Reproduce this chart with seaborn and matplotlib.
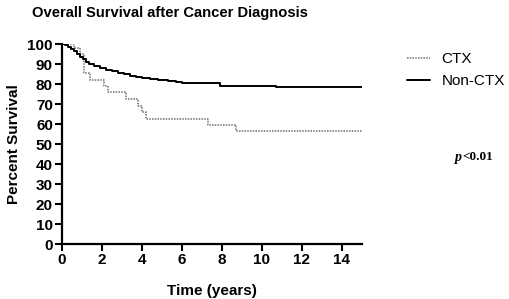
import numpy as np
import pandas as pd
import matplotlib
matplotlib.use("Agg")
import matplotlib.pyplot as plt
import seaborn as sns

# Survival data (step functions)
ctx_time = [0, 0.6, 0.9, 1.1, 1.4, 2.1, 2.3, 3.2, 3.8, 4.0, 4.2, 7.3, 8.7, 15]
ctx_surv = [100, 98, 95, 85.5, 82, 79, 76, 72.5, 69, 66, 62.5, 59.5, 56.5, 56.5]

nonctx_time = [0, 0.15, 0.3, 0.45, 0.6, 0.75, 0.9, 1.05, 1.2, 1.35, 1.6, 1.9, 2.2,
               2.5, 2.8, 3.1, 3.4, 3.7, 4.0, 4.4, 4.8, 5.3, 5.7, 6.0, 7.9, 10.7, 15]
nonctx_surv = [100, 99.5, 98.5, 97.5, 96.5, 95, 93.5, 92.3, 91, 89.8, 89, 88, 87.2,
               86.5, 85.7, 84.8, 84.2, 83.6, 83, 82.5, 82, 81.6, 81.2, 80.7, 79.2, 78.3, 78.3]

groups = ["CTX", "Non-CTX"]
x_ticks = [0, 2, 4, 6, 8, 10, 12, 14]
y_ticks = [0, 10, 20, 30, 40, 50, 60, 70, 80, 90, 100]

df = pd.DataFrame({
    "time": ctx_time + nonctx_time,
    "surv": ctx_surv + nonctx_surv,
    "group": [groups[0]] * len(ctx_time) + [groups[1]] * len(nonctx_time),
})

sns.set_style("ticks")
plt.rcParams["font.family"] = ["Liberation Sans", "DejaVu Sans"]
plt.rcParams["text.color"] = "black"
plt.rcParams["axes.labelcolor"] = "black"
plt.rcParams["xtick.color"] = "black"
plt.rcParams["ytick.color"] = "black"

fig = plt.figure(figsize=(5.10, 2.99), dpi=100)
ax = fig.add_axes([62 / 510, 1 - 244 / 299, 300 / 510, 200 / 299])

styles = {"CTX": dict(color="#707070", linestyle=(0, (1, 0.8)), linewidth=1.1),
          "Non-CTX": dict(color="black", linestyle="-", linewidth=1.4)}
for g in groups:
    sub = df[df["group"] == g]
    sns.lineplot(data=sub, x="time", y="surv", ax=ax, estimator=None,
                 drawstyle="steps-post", label=g, **styles[g])

ax.set_xlim(0, 15)
ax.set_ylim(0, 100)
ax.set_xticks(x_ticks)
ax.set_yticks(y_ticks)
ax.set_xticklabels([str(t) for t in x_ticks], fontweight="bold", fontsize=11)
ax.set_yticklabels([str(t) for t in y_ticks], fontweight="bold", fontsize=11)
ax.tick_params(axis="both", direction="out", length=5, width=1.5, pad=1.5, colors="black")
for s in ["left", "bottom"]:
    ax.spines[s].set_linewidth(1.6)
    ax.spines[s].set_color("black")
sns.despine(ax=ax)
for s in ["left", "bottom"]:
    ax.spines[s].set_clip_on(False)

ax.set_xlabel("Time (years)", fontweight="bold", fontsize=11, labelpad=12)
ax.set_ylabel("Percent Survival", fontweight="bold", fontsize=11, labelpad=5)

fig.text(32 / 510, 1 - 13 / 299, "Overall Survival after Cancer Diagnosis",
         fontweight="bold", fontsize=10.6, ha="left", va="center")

leg = ax.legend(loc="upper left", bbox_to_anchor=(407 / 510, 1 - 52 / 299),
                bbox_transform=fig.transFigure, frameon=False, fontsize=11,
                borderpad=0, borderaxespad=0,
                handlelength=1.5, handletextpad=0.75, labelspacing=0.55)

fig.text(455 / 510, 1 - 157 / 299, "p", fontstyle="italic", fontweight="bold",
         family="Liberation Serif", fontsize=10, ha="left", va="center")
fig.text(462 / 510, 1 - 157 / 299, "<0.01", fontweight="bold",
         family="Liberation Serif", fontsize=9.5, ha="left", va="center")

fig.savefig("out.png", dpi=100)
